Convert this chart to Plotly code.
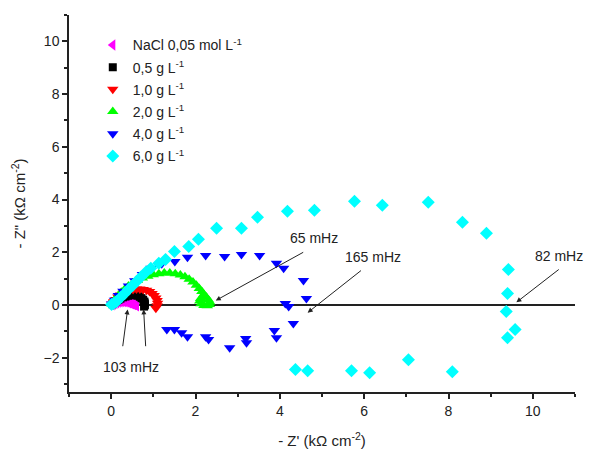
import plotly.graph_objects as go

# ---- data (kOhm cm^2) ----
nacl_x = [0.02, 0.05, 0.09, 0.13, 0.17, 0.21, 0.25, 0.29, 0.33, 0.37, 0.41, 0.45, 0.49, 0.53, 0.57, 0.60]
nacl_y = [0.01, 0.04, 0.07, 0.09, 0.11, 0.12, 0.13, 0.13, 0.12, 0.11, 0.09, 0.07, 0.04, 0.02, 0.00, -0.03]

g05_x = [0.03, 0.07, 0.12, 0.17, 0.22, 0.28, 0.34, 0.40, 0.46, 0.52, 0.58, 0.63, 0.68, 0.72, 0.76, 0.79, 0.80, 0.80, 0.78]
g05_y = [0.03, 0.08, 0.14, 0.19, 0.24, 0.29, 0.32, 0.35, 0.37, 0.38, 0.37, 0.35, 0.31, 0.26, 0.20, 0.13, 0.06, -0.01, -0.06]

g10_x = [0.02, 0.06, 0.11, 0.16, 0.22, 0.29, 0.36, 0.44, 0.52, 0.60, 0.68, 0.76, 0.84, 0.91, 0.97, 1.02, 1.06, 1.09, 1.10, 1.09, 1.06]
g10_y = [0.03, 0.12, 0.21, 0.30, 0.38, 0.45, 0.51, 0.56, 0.59, 0.61, 0.61, 0.59, 0.56, 0.51, 0.44, 0.36, 0.27, 0.17, 0.07, -0.03, -0.12]

g20_x = [0.02, 0.06, 0.11, 0.17, 0.24, 0.32, 0.41, 0.51, 0.62, 0.74, 0.87, 1.00, 1.13, 1.26, 1.39, 1.52, 1.64, 1.75,
         1.85, 1.94, 2.02, 2.09, 2.15, 2.20, 2.26, 2.31, 2.34, 2.33, 2.28, 2.20, 2.13, 2.10, 2.12]
g20_y = [0.04, 0.14, 0.25, 0.36, 0.48, 0.60, 0.72, 0.83, 0.93, 1.02, 1.09, 1.15, 1.19, 1.21, 1.21, 1.19, 1.14, 1.07,
         0.98, 0.87, 0.75, 0.63, 0.51, 0.40, 0.29, 0.19, 0.10, 0.02, -0.03, -0.02, 0.05, 0.15, 0.25]

g40_x = [0.01, 0.08, 0.17, 0.28, 0.41, 0.56, 0.74, 0.95, 1.20, 1.51, 1.81, 2.24, 2.69, 3.09, 3.52, 3.92, 4.09,
         4.56, 4.63, 4.21, 4.13, 4.32, 3.92, 3.87, 3.21, 3.19, 2.81, 2.31, 2.24, 1.81, 1.67, 1.50, 1.32]
g40_y = [0.04, 0.18, 0.36, 0.52, 0.72, 0.92, 1.16, 1.39, 1.56, 1.65, 1.81, 1.88, 1.84, 1.92, 1.88, 1.58, 1.39,
         0.93, 0.25, -0.06, 0.06, -0.70, -1.24, -0.97, -1.43, -1.27, -1.62, -1.31, -1.20, -1.20, -1.05, -0.93, -0.93]

g60_x = [0.01, 0.06, 0.13, 0.23, 0.32, 0.41, 0.51, 0.60, 0.70, 0.82, 0.94, 1.13, 1.29, 1.50, 1.84, 2.07, 2.50, 3.09,
         3.47, 4.18, 4.82, 5.77, 6.43, 7.52, 8.33, 8.90, 9.42, 9.40, 9.37, 9.58, 9.40, 8.09, 7.05, 6.13, 5.70, 4.66, 4.37]
g60_y = [0.02, 0.06, 0.13, 0.29, 0.44, 0.59, 0.74, 0.89, 1.05, 1.24, 1.39, 1.58, 1.73, 2.03, 2.22, 2.49, 2.91, 2.91,
         3.33, 3.56, 3.59, 3.94, 3.78, 3.90, 3.14, 2.72, 1.35, 0.44, -0.25, -0.93, -1.24, -2.53, -2.08, -2.57, -2.49, -2.49, -2.45]

series = [
    ("NaCl 0,05 mol L<sup>-1</sup>", nacl_x, nacl_y, "#FF00FF", "triangle-left"),
    ("0,5 g L<sup>-1</sup>", g05_x, g05_y, "#000000", "square"),
    ("1,0 g L<sup>-1</sup>", g10_x, g10_y, "#FF0000", "triangle-down"),
    ("2,0 g L<sup>-1</sup>", g20_x, g20_y, "#00FF00", "triangle-up"),
    ("4,0 g L<sup>-1</sup>", g40_x, g40_y, "#0000FF", "triangle-down"),
    ("6,0 g L<sup>-1</sup>", g60_x, g60_y, "#00FFFF", "diamond"),
]

FONT = "Arial, Liberation Sans, sans-serif"

fig = go.Figure()
for i, (name, xs, ys, col, sym) in enumerate(series):
    sz = 8 if sym == "square" else 10
    fig.add_trace(go.Scatter(x=xs, y=ys, mode="markers", name=name, legendgroup=f"g{i}",
                             marker=dict(color=col, symbol=sym, size=sz, line=dict(width=0))))

# annotation texts and arrows
labels = [("65 mHz", "x", 4.80, 2.53, "center"), ("165 mHz", "x", 6.22, 1.81, "center"),
          ("82 mHz", "paper", 1.019, 1.84, "right"), ("103 mHz", "x", 0.46, -2.34, "center")]
arrows = [(2.48, 0.17, 4.59, 2.03), (4.66, -0.29, 5.96, 1.35), (9.61, 0.10, 10.65, 1.39),
          (0.39, -0.17, 0.27, -1.62), (0.77, -0.17, 0.82, -1.62)]

for t, xr, x, y, anc in labels:
    fig.add_annotation(x=x, y=y, text=t, showarrow=False, xref=xr, yref="y", xanchor=anc,
                       font=dict(family=FONT, size=14, color="#222"))
for hx, hy, tx, ty in arrows:
    fig.add_annotation(x=hx, y=hy, ax=tx, ay=ty, xref="x", yref="y", axref="x", ayref="y",
                       text="", showarrow=True, arrowhead=2, arrowsize=1, arrowwidth=1, arrowcolor="#222")

fig.update_layout(
    width=584, height=442,
    margin=dict(l=61, r=17, t=7, b=58, autoexpand=False),
    paper_bgcolor="white", plot_bgcolor="white",
    font=dict(family=FONT, size=14, color="#222"),
    showlegend=True,
    legend=dict(x=0.047, y=0.962, xanchor="left", yanchor="top", bgcolor="rgba(0,0,0,0)",
                font=dict(family=FONT, size=14, color="#222"), tracegroupgap=1),
    xaxis=dict(range=[-1, 11], dtick=2, tick0=0, showline=True, linecolor="#222", linewidth=1.5,
               ticks="outside", ticklen=5, tickwidth=1.5, tickcolor="#222", showgrid=False, zeroline=False,
               automargin=False,
               minor=dict(dtick=1, tick0=1, ticks="outside", ticklen=3, tickwidth=1.5, tickcolor="#222", showgrid=False),
               title=dict(text="- Z' (kΩ cm<sup>-2</sup>)", font=dict(size=15), standoff=18),
               tickfont=dict(size=14)),
    yaxis=dict(range=[-3.3, 11], dtick=2, tick0=0, showline=True, linecolor="#222", linewidth=1.5,
               ticks="outside", ticklen=5, tickwidth=1.5, tickcolor="#222", showgrid=False,
               zeroline=True, zerolinecolor="#222", zerolinewidth=1.5, automargin=False,
               minor=dict(dtick=1, tick0=1, ticks="outside", ticklen=3, tickwidth=1.5, tickcolor="#222", showgrid=False),
               title=dict(text="- Z\" (kΩ cm<sup>-2</sup>)", font=dict(size=15), standoff=14),
               tickfont=dict(size=14)),
)

fig.write_html("out.html")
